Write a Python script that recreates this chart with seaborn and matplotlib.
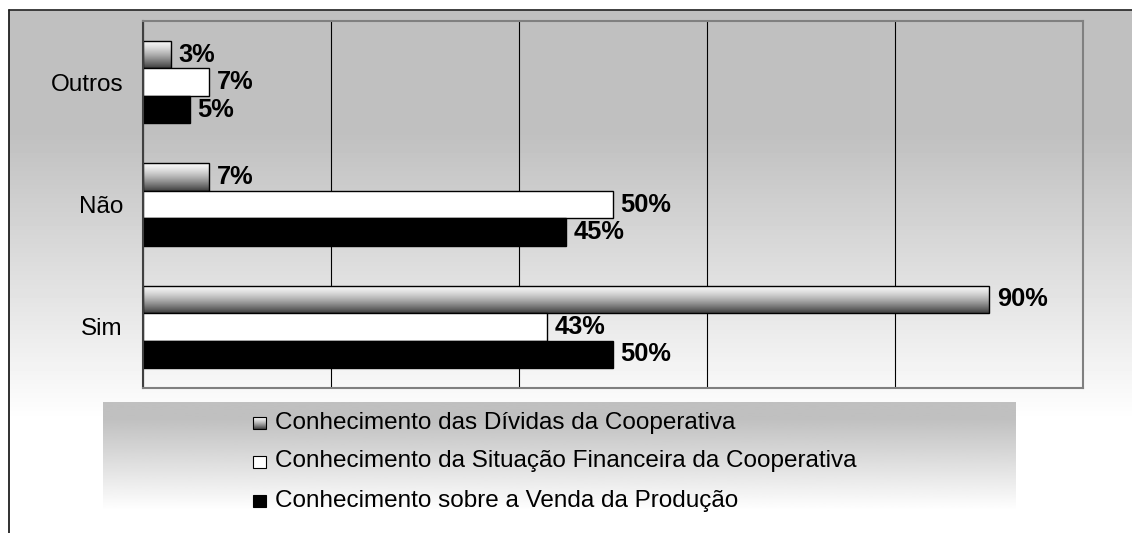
import numpy as np
import pandas as pd
import matplotlib
matplotlib.use("Agg")
import matplotlib.pyplot as plt
import seaborn as sns
from matplotlib.patches import Rectangle
from matplotlib.lines import Line2D

# dados do grafico
categorias = ["Outros", "Não", "Sim"]
series = ["Conhecimento das Dívidas da Cooperativa",
          "Conhecimento da Situação Financeira da Cooperativa",
          "Conhecimento sobre a Venda da Produção"]
dividas = [3, 7, 90]
situacao = [7, 50, 43]
venda = [5, 45, 50]

df = pd.DataFrame({"categoria": categorias * 3,
                   "serie": np.repeat(series, len(categorias)),
                   "valor": dividas + situacao + venda})

sns.set_style("white")
plt.rcParams["font.family"] = ["Liberation Sans", "DejaVu Sans"]

W, H = 1132, 533
FS = 17.5
FSB = 18.3
fig = plt.figure(figsize=(W / 100, H / 100), dpi=100)

# fundo em degrade
bg = np.ones((H, W))
ys = np.arange(H)
grad = np.interp(ys, [10, 130, 420], [0.75, 0.75, 1.0])
bg[10:, 9:] = grad[10:, None]
bax = fig.add_axes([0, 0, 1, 1], zorder=-10)
bax.imshow(bg, cmap="gray", vmin=0, vmax=1, aspect="auto",
           interpolation="nearest", extent=(0, W, H, 0))
bax.axis("off")
fig.add_artist(Line2D([9 / W, 1], [1 - 10 / H, 1 - 10 / H], color="#303030", lw=1.3))
fig.add_artist(Line2D([9 / W, 9 / W], [1 - 10 / H, 0], color="#202020", lw=1.3))

# grafico de barras
ax = fig.add_axes([143 / W, 1 - 388 / H, 940 / W, 367 / H])
ax.set_facecolor("none")
sns.barplot(data=df, x="valor", y="categoria", hue="serie", order=categorias,
            hue_order=series, palette=["#808080", "white", "black"],
            width=0.675, edgecolor="black", linewidth=1.0, saturation=1,
            legend=False, ax=ax)

t = np.linspace(0, 1, 64)
bar_grad = (0.97 - 0.72 * t ** 1.4)[:, None]
for p in ax.containers[0]:
    x, y, w, h = p.get_x(), p.get_y(), p.get_width(), p.get_height()
    im = ax.imshow(bar_grad, cmap="gray", vmin=0, vmax=1, aspect="auto",
                   extent=(x, x + w, y + h, y), origin="upper", zorder=0.9)
    im.set_clip_path(p)
    p.set_facecolor("none")

vals = [dividas, situacao, venda]
for cont, v in zip(ax.containers, vals):
    ax.bar_label(cont, labels=[f"{a}%" for a in v], padding=5.5,
                 fontsize=FSB, fontweight="bold", color="black")

ax.set_xlim(0, 100)
ax.set_ylim(2.5, -0.5)
ax.set_xticks([0, 20, 40, 60, 80, 100])
ax.set_xticklabels([])
ax.tick_params(axis="x", length=0)
ax.set_axisbelow(True)
ax.grid(axis="x", color="black", linewidth=0.8)
ax.set_yticks(range(len(categorias)))
ax.set_yticklabels(categorias, fontsize=FS, color="black")
ax.tick_params(axis="y", which="major", length=0, pad=14.4)
ax.set_yticks([-0.5, 0.5, 1.5, 2.5], minor=True)
ax.tick_params(axis="y", which="minor", length=5, width=1, color="#404040", direction="out")
ax.set_xlabel("")
ax.set_ylabel("")
for s in ["top", "right", "bottom"]:
    ax.spines[s].set_color("#808080")
    ax.spines[s].set_linewidth(1.5)
ax.spines["left"].set_color("#404040")
ax.spines["left"].set_linewidth(1.5)

# legenda
lax = fig.add_axes([103 / W, 1 - 525 / H, 913 / W, 123 / H])
ly = np.arange(402, 526)
lg = np.interp(ly, [402, 418, 510], [0.75, 0.75, 1.0])[:, None]
lax.imshow(lg, cmap="gray", vmin=0, vmax=1, aspect="auto",
           extent=(103, 1016, 525, 402), origin="upper")
baselines = [429, 467.5, 506.5]
cores = [None, "white", "black"]
for nome, b, c in zip(series, baselines, cores):
    if c is None:
        lax.imshow(bar_grad, cmap="gray", vmin=0, vmax=1, aspect="auto",
                   extent=(253, 266, b, b - 12), origin="upper")
        lax.add_patch(Rectangle((253, b - 12), 13, 12, facecolor="none",
                                edgecolor="black", lw=0.8))
    else:
        lax.add_patch(Rectangle((253, b - 12), 13, 12, facecolor=c,
                                edgecolor="black", lw=0.8))
    lax.text(275, b, nome, fontsize=FS, va="baseline", ha="left", color="black")
lax.set_xlim(103, 1016)
lax.set_ylim(525, 402)
lax.axis("off")

fig.savefig("out.png", dpi=100)
